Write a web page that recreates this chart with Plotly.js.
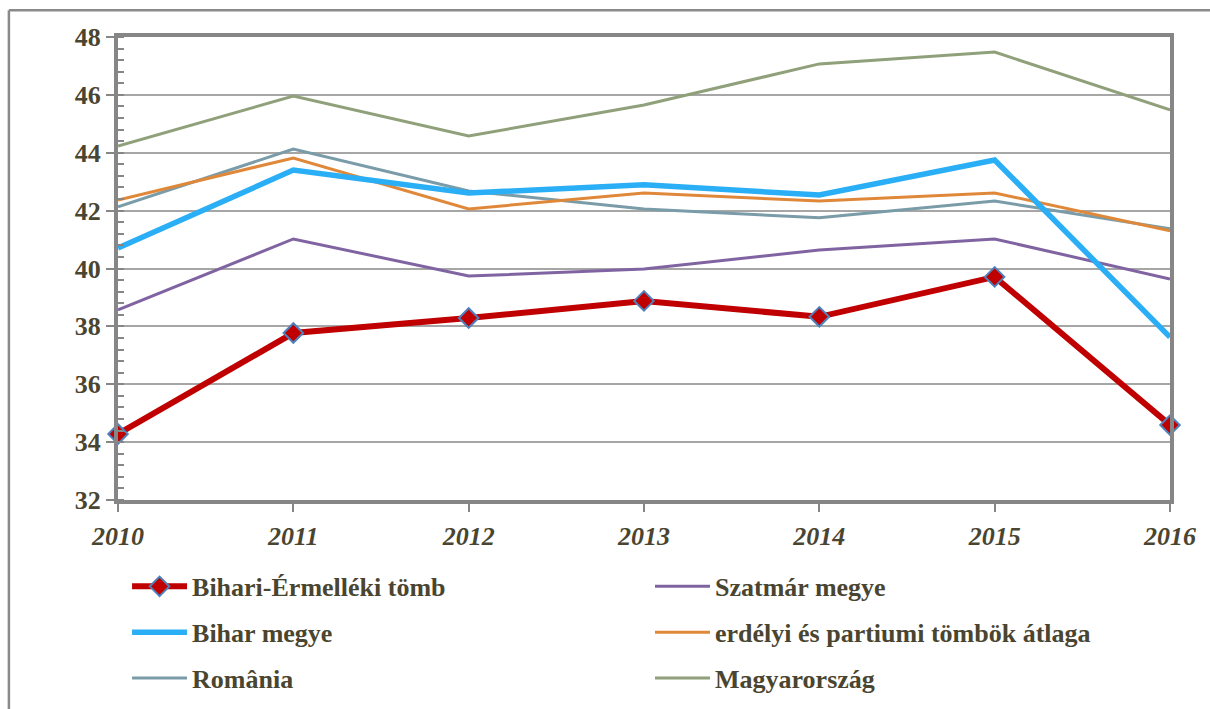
<!DOCTYPE html>
<html>
<head>
<meta charset="utf-8">
<script src="https://cdn.plot.ly/plotly-3.0.1.min.js"></script>
<style>
html,body{margin:0;padding:0;background:#fff;}
#chart{width:1210px;height:709px;}
</style>
</head>
<body>
<div id="chart"></div>
<script>
const years = [2010, 2011, 2012, 2013, 2014, 2015, 2016];
const bihariErmelleki = [34.28, 37.77, 38.29, 38.88, 38.33, 39.71, 34.59];
const biharMegye = [40.71, 43.40, 42.61, 42.89, 42.54, 43.75, 37.63];
const romania = [42.13, 44.13, 42.68, 42.06, 41.75, 42.33, 41.37];
const szatmarMegye = [38.57, 41.02, 39.74, 39.98, 40.64, 41.02, 39.64];
const erdelyiAtlag = [42.37, 43.82, 42.06, 42.61, 42.33, 42.61, 41.30];
const magyarorszag = [44.23, 45.96, 44.58, 45.65, 47.07, 47.48, 45.48];
const yTicks = [32, 34, 36, 38, 40, 42, 44, 46, 48];

const textColor = '#4a4530';
const fontFam = 'Liberation Serif';

function lineTrace(name, y, color, width, legend, rank) {
  return {
    type: 'scatter', mode: 'lines', name: '<b>' + name + '</b>', x: years, y: y,
    line: {color: color, width: width},
    legend: legend, legendrank: rank, legendgroup: name,
    cliponaxis: false, hoverinfo: 'x+y+name'
  };
}

const traces = [
  lineTrace('Magyarország', magyarorszag, '#8fa07a', 3, 'legend2', 3),
  lineTrace('România', romania, '#7a9ca8', 3, 'legend', 3),
  lineTrace('erdélyi és partiumi tömbök átlaga', erdelyiAtlag, '#e0883a', 3, 'legend2', 2),
  lineTrace('Szatmár megye', szatmarMegye, '#8064a2', 3, 'legend2', 1),
  lineTrace('Bihar megye', biharMegye, '#2aaef5', 5.5, 'legend', 2),
  {
    type: 'scatter', mode: 'lines+markers', name: '<b>Bihari-Érmelléki tömb</b>',
    x: years, y: bihariErmelleki,
    line: {color: '#c00000', width: 6},
    marker: {symbol: 'diamond', size: 15, color: '#c00000', line: {color: '#4f81bd', width: 2}},
    legend: 'legend', legendrank: 1, legendgroup: 'bihari',
    cliponaxis: false
  }
];

const legendCommon = {
  orientation: 'v', xanchor: 'left', yanchor: 'top', yref: 'container',
  font: {family: fontFam, size: 26, color: textColor},
  bgcolor: 'rgba(0,0,0,0)', borderwidth: 0,
  itemwidth: 55, tracegroupgap: 9, traceorder: 'grouped'
};

const layout = {
  width: 1210, height: 709,
  margin: {l: 118, r: 40, t: 37, b: 209},
  paper_bgcolor: '#ffffff', plot_bgcolor: '#ffffff',
  showlegend: true,
  font: {family: fontFam, color: textColor},
  xaxis: {
    range: [2010, 2016], tickvals: years, ticktext: years.map(v => '<b><i>' + v + '</i></b>'),
    ticks: 'outside', ticklen: 8, tickwidth: 2, tickcolor: '#868686',
    showline: true, linecolor: '#868686', linewidth: 4, mirror: true,
    showgrid: false, zeroline: false,
    tickfont: {family: fontFam, size: 26, color: textColor},
    ticklabelstandoff: 2
  },
  yaxis: {
    range: [32, 48], tickvals: yTicks, ticktext: yTicks.map(v => '<b>' + v + '</b>'),
    ticks: 'outside', ticklen: 8, tickwidth: 2, tickcolor: '#868686',
    showline: true, linecolor: '#868686', linewidth: 4, mirror: true,
    showgrid: true, gridcolor: '#a6a6a6', gridwidth: 2, zeroline: false,
    tickfont: {family: fontFam, size: 26, color: textColor},
    minor: {dtick: 0.4, tick0: 32, ticks: 'inside', ticklen: 6, tickwidth: 2, tickcolor: '#868686', showgrid: false}
  },
  legend: Object.assign({}, legendCommon, {x: 0.0086, y: 0.206}),
  legend2: Object.assign({}, legendCommon, {x: 0.5057, y: 0.206}),
  shapes: [
    {type: 'line', xref: 'paper', yref: 'paper', x0: -0.1037, x1: 1.04, y0: 1.058, y1: 1.058, line: {color: '#8a8a8a', width: 2.5}},
    {type: 'line', xref: 'paper', yref: 'paper', x0: -0.1037, x1: -0.1037, y0: 1.058, y1: -0.5, line: {color: '#8a8a8a', width: 2.5}}
  ]
};

Plotly.newPlot('chart', traces, layout, {displayModeBar: false, staticPlot: true});
</script>
</body>
</html>
